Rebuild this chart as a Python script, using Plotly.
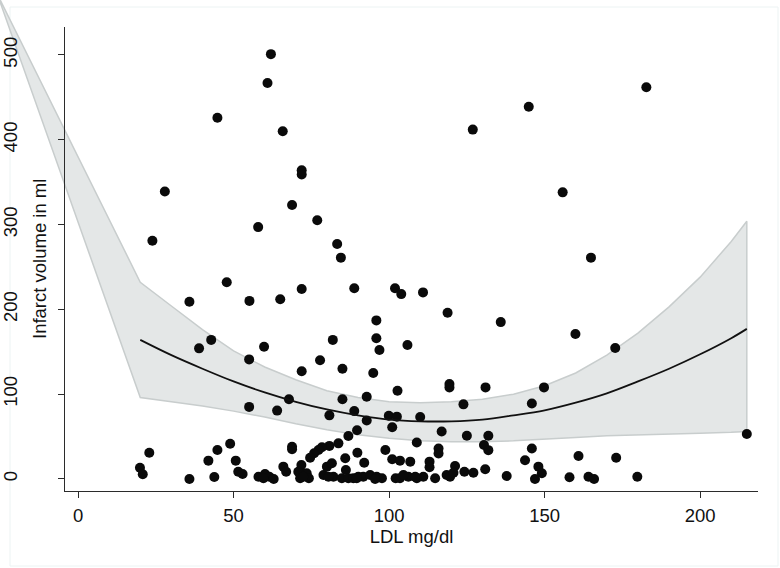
import plotly.graph_objects as go

# --- scatter: LDL (mg/dl) vs infarct volume (ml)
ldl = [
    62.0, 60.9, 44.8, 65.8, 71.9, 71.9, 27.9, 68.8, 76.9, 57.9, 23.9, 83.3, 84.5,
    182.7, 144.9, 126.9, 155.8, 164.9, 47.8, 55.1, 65.0, 71.9, 88.8, 101.9, 103.9,
    110.9, 118.8, 135.9, 95.9, 159.9, 81.9, 95.9, 35.8, 42.8, 38.9, 96.9, 59.8,
    55.0, 77.8, 85.0, 71.9, 94.9, 102.7, 67.8, 85.0, 92.8, 55.0, 64.0, 80.8, 88.8,
    92.8, 99.9, 102.5, 101.0, 89.7, 86.9, 83.7, 80.8, 78.4, 77.3, 75.9, 74.6, 68.8,
    68.8, 105.9, 119.4, 119.4, 131.0, 149.8, 123.9, 145.9, 110.0, 116.9, 125.0,
    131.9, 108.9, 130.5, 131.9, 115.9, 115.9, 145.9, 143.7, 148.0, 149.1, 146.9,
    215.0, 158.0, 160.9, 164.1, 165.9, 173.0, 179.8, 172.7,
    22.9, 19.9, 20.8, 35.8, 43.8, 41.9, 44.8, 48.9, 50.7, 51.5, 52.9, 58.0, 60.1,
    61.5, 62.9, 66.0, 66.9, 71.8, 71.8, 71.4, 73.5, 74.2, 78.9, 80.0, 81.6, 82.1,
    85.9, 86.1, 84.8, 86.9, 88.5, 89.8, 92.0, 90.1, 91.7, 93.9, 96.0, 97.7, 98.8,
    101.0, 102.1, 103.5, 106.8, 113.0, 113.0, 121.2, 124.2, 127.1, 130.9, 137.8,
    118.5, 119.6, 114.8, 111.0, 108.9, 106.2, 103.5, 104.6, 120.7, 108.4,
    59.6, 70.8, 72.4, 80.5, 89.6, 95.5,
]
infarct = [
    501, 467, 426, 410, 364, 359, 339, 323, 305, 297, 281, 277, 261,
    462, 439, 412, 338, 261, 232, 210, 212, 224, 225, 225, 218,
    220, 196, 185, 187, 171, 164, 166, 209, 164, 154, 152, 156,
    141, 140, 130, 127, 125, 104, 94, 94, 97, 85, 80.6, 75, 80,
    69, 74.5, 73.5, 61, 57.4, 50.7, 42, 39, 37.4, 34.2, 30.3, 25, 38,
    35, 158, 112, 108, 108, 108, 88, 89, 73, 56, 51,
    51, 43, 40, 34, 36, 30, 36, 22, 14.5, 6.7, 0,
    53, 2, 27, 2.7, 0, 25, 2.7, 154.5,
    31, 13.3, 5.5, 0, 2.4, 21.6, 34.2, 41.6, 21.6, 8.6, 5.9, 2.7, 5.9,
    2.7, 0, 14.5, 8.6, 16.5, 6.7, 0.8, 6.7, 0.8, 4.7, 14.5, 18.5, 2.7,
    24.4, 10.6, 0.8, 0.8, 0.8, 31, 19.2, 2.7, 2.7, 4.7, 2.7, 0.8, 34.2,
    23.2, 0.8, 21.6, 20.4, 20.4, 13.8, 15.3, 8.6, 7.4, 11.4, 3.5,
    4.7, 2.7, 0.8, 2.7, 0.8, 2.7, 0.8, 4.7, 7.4, 2.7,
    0.8, 8.6, 2.7, 2.7, 0.8, 0,
]

# --- quadratic fit and its confidence band
fit_x = [20, 30, 40, 50, 60, 70, 80, 90, 100, 110, 120, 130, 140, 150, 160,
         170, 180, 190, 200, 210, 215]
fit_y = [164, 146, 130, 115, 102, 91, 82, 75, 70, 68, 68, 70, 75, 81, 90,
         101, 115, 130, 147, 166, 177]
ci_upper = [232, 204, 176, 151, 132, 117, 104, 96, 91, 90, 91, 94, 100, 110, 125,
            146, 172, 203, 238, 280, 304]
ci_lower = [96, 91, 86, 80, 73, 65, 58, 52, 48, 45, 44, 44, 45, 47, 49,
            51, 52, 53, 54, 55, 56]
# stray vertex of the band polygon, off the top-left of the plot
band_apex = (-26, 572)

x_ticks = [0, 50, 100, 150, 200]
y_ticks = [0, 100, 200, 300, 400, 500]

W, H = 780, 568
x_range = [-4.2, 218.6]
y_range = [-14.2, 533.0]
x_dom = [65 / W, 758 / W]
y_dom = [1 - 491 / H, 1 - 27 / H]

FONT = dict(family="Liberation Sans, Arial, Helvetica, sans-serif", size=18.5, color="#111111")
AXIS_COLOR = "#2b2b2b"


def outer_range(r, d):
    # range of a full-page axis that keeps the same scale as the inner one
    span = (r[1] - r[0]) / (d[1] - d[0])
    lo = r[0] - d[0] * span
    return [lo, lo + span]


band_x = [band_apex[0]] + fit_x + fit_x[::-1] + [band_apex[0]]
band_y = [band_apex[1]] + ci_upper + ci_lower[::-1] + [band_apex[1]]

fig = go.Figure()

# band goes on a hidden full-page subplot so it is not clipped at the axes
fig.add_trace(go.Scatter(
    x=band_x, y=band_y, xaxis="x", yaxis="y",
    mode="lines", fill="toself",
    fillcolor="rgb(228,231,231)",
    line=dict(color="rgb(200,205,205)", width=1.5),
    hoverinfo="skip", showlegend=False,
))
fig.add_trace(go.Scatter(
    x=ldl, y=infarct, xaxis="x2", yaxis="y2",
    mode="markers",
    marker=dict(color="#0a0a0a", size=10, line=dict(width=0)),
    showlegend=False,
))
fig.add_trace(go.Scatter(
    x=fit_x, y=fit_y, xaxis="x2", yaxis="y2",
    mode="lines", line=dict(color="#111111", width=1.8, shape="spline"),
    showlegend=False,
))

fig.update_layout(
    width=W, height=H,
    margin=dict(l=0, r=0, t=0, b=0),
    paper_bgcolor="white",
    plot_bgcolor="rgba(0,0,0,0)",
    font=FONT,
    xaxis=dict(domain=[0, 1], range=outer_range(x_range, x_dom), visible=False,
               anchor="y", fixedrange=True),
    yaxis=dict(domain=[0, 1], range=outer_range(y_range, y_dom), visible=False,
               anchor="x", fixedrange=True),
    xaxis2=dict(
        domain=x_dom, range=x_range, anchor="y2",
        tickvals=x_ticks, ticks="outside", ticklen=6, tickcolor=AXIS_COLOR,
        showline=True, linecolor=AXIS_COLOR, linewidth=1.2,
        showgrid=False, zeroline=False, ticklabelstandoff=2,
        title=dict(text="LDL mg/dl", standoff=0, font=FONT),
    ),
    yaxis2=dict(
        domain=y_dom, range=y_range, anchor="x2",
        tickvals=y_ticks, ticks="outside", ticklen=6, tickcolor=AXIS_COLOR,
        showline=True, linecolor=AXIS_COLOR, linewidth=1.2,
        showgrid=False, zeroline=False, tickangle=-90, ticklabelstandoff=34,
    ),
    annotations=[dict(
        text="Infarct volume in ml", xref="paper", yref="paper",
        x=39 / W, y=(y_dom[0] + y_dom[1]) / 2, textangle=-90,
        xanchor="center", yanchor="middle", showarrow=False, font=FONT,
    )],
    shapes=[dict(
        type="rect", xref="paper", yref="paper",
        x0=10 / W, x1=778 / W, y0=1 - 566 / H, y1=1 - 7 / H,
        line=dict(color="#ecf3f3", width=1), layer="below",
    )],
)

# drop the page's default body margin so the figure sits at the window corner
fig.write_html(
    "out.html",
    config={"displayModeBar": False},
    post_script="document.body.style.margin = '0';",
)
